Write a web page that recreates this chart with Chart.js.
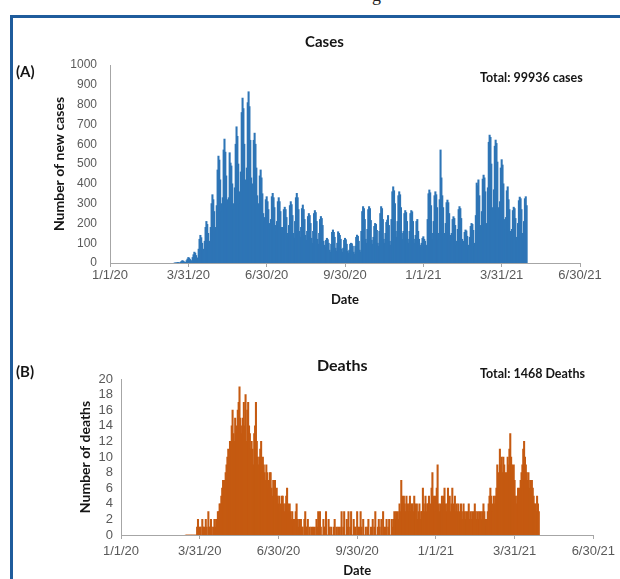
<!DOCTYPE html>
<html>
<head>
<meta charset="utf-8">
<script src="https://cdn.jsdelivr.net/npm/chart.js@4.4.1/dist/chart.umd.min.js"></script>
<style>
  body { margin: 0; width: 620px; height: 579px; overflow: hidden; position: relative; background: #fff; }
  .frame { position: absolute; left: 10px; top: 15px; width: 640px; height: 600px;
           border-left: 3px solid #1f5c9c; border-top: 3px solid #1f5c9c; }
  .lbl { position: absolute; font-family: Lato, "Liberation Sans", sans-serif; font-weight: bold;
         color: #151515; white-space: nowrap; line-height: 1; }
  .cap { position: absolute; left: 372px; top: -15px; font-family: "Liberation Serif", serif; font-size: 18px; color: #222; }
  canvas { position: absolute; left: 0; }
</style>
</head>
<body>
<div class="cap">g</div>
<div class="frame"></div>

<canvas id="cases" width="620" height="318" style="top:0"></canvas>
<canvas id="deaths" width="620" height="261" style="top:318px"></canvas>

<div class="lbl" style="left:305px; top:34px; font-size:15px;">Cases</div>
<div class="lbl" style="left:16px; top:64px; font-size:15px;">(A)</div>
<div class="lbl" style="left:480px; top:72px; font-size:12.5px;">Total: 99936 cases</div>

<div class="lbl" style="left:317px; top:357px; font-size:16px;">Deaths</div>
<div class="lbl" style="left:16px; top:364px; font-size:15px;">(B)</div>
<div class="lbl" style="left:480px; top:368px; font-size:12.5px;">Total: 1468 Deaths</div>

<script>
// both series are daily counts starting on this date (Mon)
const firstDate = "2020-03-16";

// x axis: days since 1/1/20, Excel put a tick every 91 days
const tickDays = [0, 91, 182, 273, 364, 455, 546];
const tickLabels = ["1/1/20", "3/31/20", "6/30/20", "9/30/20", "1/1/21", "3/31/21", "6/30/21"];

// new cases per day, one row per week (Mon..Sun)
const newCases = [
	0, 1, 0, 2, 3, 1, 0,
	4, 8, 12, 10, 6, 4, 3,
	12, 20, 28, 25, 18, 12, 10,
	28, 42, 55, 50, 38, 26, 22,
	70, 120, 140, 128, 100, 70, 60,
	110, 180, 210, 195, 150, 110, 95,
	180, 300, 345, 320, 260, 180, 160,
	290, 470, 540, 520, 420, 300, 260,
	330, 571, 626, 560, 440, 320, 280,
	330, 557, 505, 490, 400, 300, 270,
	380, 600, 688, 640, 500, 360, 300,
	460, 760, 833, 780, 600, 420, 360,
	480, 810, 865, 790, 620, 430, 360,
	400, 620, 656, 600, 480, 340, 290,
	300, 440, 470, 430, 350, 250, 210,
	230, 320, 335, 310, 270, 200, 170,
	220, 335, 352, 330, 280, 190, 160,
	210, 310, 330, 310, 260, 180, 150,
	180, 270, 282, 270, 230, 150, 130,
	190, 290, 310, 295, 240, 150, 125,
	210, 330, 352, 330, 270, 160, 130,
	180, 275, 293, 270, 220, 140, 115,
	160, 235, 250, 240, 200, 125, 100,
	160, 250, 265, 255, 210, 120, 95,
	150, 220, 235, 225, 190, 110, 90,
	80, 115, 125, 118, 100, 65, 55,
	95, 155, 167, 155, 130, 75, 60,
	100, 158, 150, 140, 120, 70, 55,
	75, 115, 125, 118, 95, 60, 50,
	65, 95, 100, 97, 85, 55, 45,
	85, 130, 141, 135, 110, 65, 55,
	160, 260, 285, 275, 220, 120, 100,
	170, 270, 285, 275, 215, 115, 95,
	130, 185, 200, 195, 165, 100, 85,
	160, 250, 285, 275, 220, 120, 100,
	150, 205, 217, 240, 190, 110, 90,
	220, 360, 385, 365, 300, 160, 130,
	210, 340, 360, 345, 280, 150, 120,
	160, 250, 265, 255, 210, 120, 100,
	160, 250, 265, 259, 210, 120, 100,
	140, 210, 220, 160, 120, 90, 80,
	100, 125, 133, 120, 110, 90, 85,
	220, 350, 369, 355, 290, 150, 120,
	210, 340, 360, 345, 280, 150, 115,
	320, 571, 430, 340, 280, 150, 120,
	200, 305, 318, 305, 250, 140, 110,
	150, 220, 234, 225, 190, 110, 90,
	170, 270, 285, 275, 225, 120, 95,
	110, 155, 167, 162, 135, 90, 75,
	130, 185, 200, 195, 165, 100, 85,
	240, 404, 390, 420, 340, 190, 150,
	260, 424, 444, 430, 360, 200, 160,
	380, 610, 646, 635, 500, 280, 220,
	370, 590, 621, 604, 510, 280, 220,
	310, 480, 522, 495, 400, 220, 170,
	230, 365, 385, 320, 270, 160, 130,
	170, 265, 282, 275, 225, 130, 110,
	200, 315, 333, 325, 270, 150, 120,
	210, 325, 335, 290,
];

// deaths per day, same start date
const newDeaths = [
	0, 0, 0, 0, 0, 0, 0,
	0, 0, 0, 0, 0, 0, 1,
	2, 0, 1, 1, 0, 2, 1,
	1, 0, 2, 1, 0, 3, 1,
	1, 2, 1, 0, 1, 2, 1,
	2, 1, 3, 3, 4, 4, 5,
	6, 7, 6, 7, 8, 9, 10,
	11, 9, 12, 10, 14, 16, 13,
	12, 15, 14, 13, 16, 17, 19,
	15, 13, 14, 15, 17, 14, 18,
	12, 16, 17, 14, 13, 11, 12,
	11, 9, 13, 14, 17, 12, 10,
	9, 10, 11, 12, 8, 10, 9,
	8, 7, 9, 8, 6, 7, 8,
	8, 6, 5, 7, 6, 7, 5,
	6, 5, 4, 5, 3, 4, 5,
	5, 4, 3, 4, 5, 6, 4,
	3, 4, 3, 2, 3, 1, 2,
	2, 3, 4, 2, 1, 2, 1,
	2, 1, 1, 0, 2, 3, 1,
	1, 2, 0, 1, 0, 1, 0,
	1, 0, 1, 0, 2, 1, 3,
	0, 3, 1, 0, 0, 2, 1,
	1, 3, 0, 0, 2, 1, 0,
	1, 0, 0, 1, 2, 0, 1,
	0, 1, 0, 1, 0, 3, 0,
	1, 3, 0, 0, 2, 1, 3,
	0, 1, 3, 0, 0, 2, 1,
	1, 0, 3, 1, 0, 1, 3,
	1, 0, 2, 0, 0, 1, 0,
	1, 2, 0, 0, 1, 0, 2,
	0, 1, 3, 0, 0, 1, 2,
	1, 0, 2, 0, 3, 1, 0,
	1, 2, 0, 1, 2, 0, 0,
	2, 1, 2, 3, 2, 3, 2,
	3, 2, 4, 3, 7, 5, 4,
	5, 4, 3, 5, 4, 3, 4,
	5, 3, 4, 4, 3, 5, 4,
	3, 4, 2, 3, 4, 2, 3,
	3, 6, 4, 3, 5, 3, 4,
	4, 5, 3, 4, 6, 8, 5,
	4, 5, 3, 6, 9, 4, 3,
	4, 3, 5, 4, 5, 6, 4,
	3, 4, 6, 4, 5, 3, 4,
	6, 4, 3, 5, 3, 4, 3,
	4, 3, 2, 4, 3, 2, 4,
	3, 2, 3, 2, 3, 4, 2,
	3, 2, 3, 2, 3, 4, 3,
	2, 3, 2, 3, 2, 3, 2,
	3, 4, 3, 2, 1, 2, 3,
	4, 5, 6, 5, 4, 3, 5,
	4, 5, 6, 9, 8, 7, 11,
	9, 10, 8, 10, 9, 8, 7,
	8, 10, 9, 11, 13, 10, 9,
	8, 9, 7, 5, 4, 5, 6,
	5, 6, 7, 8, 9, 11, 12,
	10, 9, 8, 7, 8, 6, 7,
	6, 7, 6, 5, 4, 4, 3,
	5, 4, 3,
];

const xTickFont = { family: "'Liberation Sans', Arial, sans-serif", size: 13 };
const axisGrey = "#a6a6a6";
const tickGrey = "#595959";

function dayNumber(iso) {
	const [y, m, d] = iso.split("-").map(Number);
	return Math.round((Date.UTC(y, m - 1, d) - Date.UTC(2020, 0, 1)) / 86400000);
}

function toPoints(values) {
	const d0 = dayNumber(firstDate);
	return values.map((v, i) => ({ x: d0 + i, y: v }));
}

function makeChart(id, values, color, opts) {
	return new Chart(document.getElementById(id), {
		type: "bar",
		data: {
			datasets: [{
				data: toPoints(values),
				backgroundColor: color,
				borderWidth: 0,
				barThickness: 1.4,
			}],
		},
		options: {
			responsive: false,
			animation: false,
			layout: { padding: opts.padding },
			plugins: { legend: { display: false }, tooltip: { enabled: false } },
			scales: {
				x: {
					type: "linear",
					min: tickDays[0],
					max: tickDays[tickDays.length - 1],
					offset: false,
					afterBuildTicks: (s) => { s.ticks = tickDays.map((v) => ({ value: v })); },
					afterFit: (s) => { s.height = opts.xHeight; },
					ticks: {
						callback: (v, i) => tickLabels[i],
						autoSkip: false,
						maxRotation: 0,
						font: xTickFont,
						color: tickGrey,
						padding: opts.xTickPad,
					},
					grid: { display: true, drawOnChartArea: false, drawTicks: true, tickLength: 4, color: axisGrey, offset: false },
					border: { display: true, color: axisGrey, width: 1 },
					title: {
						display: true, text: "Date", color: "#151515",
						font: { family: "Lato, 'Liberation Sans', sans-serif", size: 13, weight: "bold" },
						padding: { top: 0, bottom: opts.dateBottom },
					},
				},
				y: {
					min: 0,
					max: opts.yMax,
					ticks: {
						stepSize: opts.yStep,
						autoSkip: false,
						callback: (v) => String(v),
						font: { family: "'Liberation Sans', Arial, sans-serif", size: opts.yTickSize },
						color: tickGrey,
						padding: opts.yTickPad,
					},
					grid: { display: false, drawTicks: false },
					border: { display: true, color: axisGrey, width: 1 },
					afterFit: (s) => { s.width = opts.yWidth; },
					title: {
						display: true, text: opts.yTitle, color: "#151515",
						font: { family: "Lato, 'Liberation Sans', sans-serif", size: 14, weight: "bold" },
						padding: { top: opts.yTitleOffset, bottom: 0 },
					},
				},
			},
		},
	});
}

makeChart("cases", newCases, "#2e75b6", {
	padding: { top: 65, right: 40, left: 0, bottom: 0 },
	xHeight: 55, xTickPad: 1, dateBottom: 10,
	yMax: 1000, yStep: 100, yWidth: 110, yTickPad: 13, yTickSize: 12,
	yTitle: "Number of new cases", yTitleOffset: 51,
});

makeChart("deaths", newDeaths, "#c55a11", {
	padding: { top: 61, right: 25, left: 0, bottom: 0 },
	xHeight: 44, xTickPad: 5, dateBottom: 0,
	yMax: 20, yStep: 2, yWidth: 121, yTickPad: 8, yTickSize: 13,
	yTitle: "Number of deaths", yTitleOffset: 77,
});
</script>
</body>
</html>
